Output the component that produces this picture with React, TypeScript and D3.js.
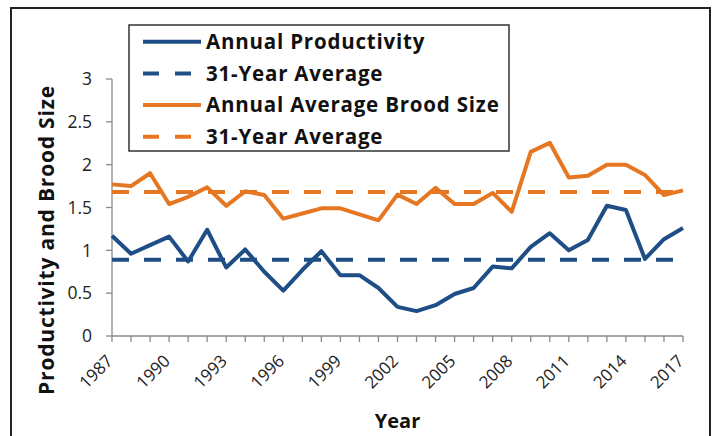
import React from "react";
import * as d3 from "d3";

const years = [1987, 1988, 1989, 1990, 1991, 1992, 1993, 1994, 1995, 1996, 1997, 1998, 1999, 2000, 2001, 2002, 2003, 2004, 2005, 2006, 2007, 2008, 2009, 2010, 2011, 2012, 2013, 2014, 2015, 2016, 2017];
const productivity = [1.17, 0.96, 1.06, 1.16, 0.87, 1.24, 0.8, 1.01, 0.75, 0.53, 0.77, 0.99, 0.71, 0.71, 0.56, 0.34, 0.29, 0.36, 0.49, 0.56, 0.81, 0.79, 1.04, 1.2, 1.0, 1.12, 1.52, 1.47, 0.9, 1.13, 1.26];
const broodSize = [1.77, 1.75, 1.9, 1.54, 1.625, 1.735, 1.52, 1.69, 1.645, 1.37, 1.43, 1.49, 1.49, 1.42, 1.35, 1.65, 1.54, 1.73, 1.54, 1.54, 1.67, 1.45, 2.15, 2.255, 1.85, 1.87, 2.0, 2.0, 1.88, 1.645, 1.7];
const productivityAvg = 0.89;
const broodAvg = 1.68;
const yTicks = [0, 0.5, 1, 1.5, 2, 2.5, 3];
const xTickLabels = [1987, 1990, 1993, 1996, 1999, 2002, 2005, 2008, 2011, 2014, 2017];
const legendItems = [
  { label: "Annual Productivity", color: "#1F4E86", dashed: false },
  { label: "31-Year Average", color: "#1F4E86", dashed: true },
  { label: "Annual Average Brood Size", color: "#E67722", dashed: false },
  { label: "31-Year Average", color: "#E67722", dashed: true },
];

const BLUE = "#1F4E86";
const ORANGE = "#E67722";
const FONT = "'Open Sans', 'DejaVu Sans', sans-serif";
const DASH = "17,15";

export default function App() {
  const x = d3.scaleLinear().domain([1987, 2017]).range([112, 683]);
  const y = d3.scaleLinear().domain([0, 3]).range([336, 79]);
  const line = d3
    .line<number>()
    .x((_, i) => x(years[i]))
    .y((d) => y(d));

  return (
    <svg
      width={717}
      height={436}
      style={{ position: "absolute", left: 0, top: 0, background: "#fff" }}
      fontFamily={FONT}
    >
      <rect x={0} y={0} width={717} height={436} fill="#fff" />
      <rect x={11} y={8} width={699} height={440} fill="none" stroke="#222" strokeWidth={2} />

      {/* y axis */}
      <line x1={x(1987)} x2={x(1987)} y1={y(0)} y2={y(3)} stroke="#8a8a8a" strokeWidth={1.3} />
      {yTicks.map((t) => (
        <g key={"y" + t}>
          <line x1={x(1987) - 6} x2={x(1987)} y1={y(t)} y2={y(t)} stroke="#8a8a8a" strokeWidth={1.3} />
          <text x={92} y={y(t)} dy="0.36em" textAnchor="end" fontSize={17.5} fill="#222">
            {String(t)}
          </text>
        </g>
      ))}

      {/* x axis */}
      <line x1={x(1987)} x2={x(2017)} y1={y(0)} y2={y(0)} stroke="#8a8a8a" strokeWidth={1.3} />
      {years.map((yr) => (
        <line key={"xt" + yr} x1={x(yr)} x2={x(yr)} y1={y(0)} y2={y(0) + 6} stroke="#8a8a8a" strokeWidth={1.3} />
      ))}
      {xTickLabels.map((yr) => (
        <text
          key={"xl" + yr}
          transform={`translate(${x(yr) + 2},${362}) rotate(-45)`}
          textAnchor="end"
          fontSize={17}
          fill="#222"
        >
          {String(yr)}
        </text>
      ))}

      {/* average lines */}
      <line x1={x(1987)} x2={x(2017)} y1={y(productivityAvg)} y2={y(productivityAvg)} stroke={BLUE} strokeWidth={4} strokeDasharray={DASH} />
      <line x1={x(1987)} x2={x(2017)} y1={y(broodAvg)} y2={y(broodAvg)} stroke={ORANGE} strokeWidth={4} strokeDasharray={DASH} />

      {/* series */}
      <path d={line(broodSize) || ""} fill="none" stroke={ORANGE} strokeWidth={4} strokeLinejoin="round" />
      <path d={line(productivity) || ""} fill="none" stroke={BLUE} strokeWidth={4} strokeLinejoin="round" />

      {/* axis titles */}
      <text
        transform={`translate(47,240) rotate(-90)`}
        textAnchor="middle"
        dy="0.35em"
        fontSize={21}
        letterSpacing={0.8}
        fontWeight="bold"
        fill="#111"
      >
        Productivity and Brood Size
      </text>
      <text x={(x(1987) + x(2017)) / 2} y={421} dy="0.35em" textAnchor="middle" fontSize={20} fontWeight="bold" fill="#111">
        Year
      </text>

      {/* legend */}
      <rect x={129} y={25} width={380} height={126} fill="#fff" stroke="#333" strokeWidth={1.5} />
      {legendItems.map((it, i) => {
        const cy = 41.7 + i * 31.7;
        return (
          <g key={"lg" + i}>
            <line x1={143} x2={201} y1={cy} y2={cy} stroke={it.color} strokeWidth={4} strokeDasharray={it.dashed ? "16,16" : undefined} />
            <text x={206} y={cy} dy="0.35em" fontSize={20.5} letterSpacing={0.8} fontWeight="bold" fill="#111">
              {it.label}
            </text>
          </g>
        );
      })}
    </svg>
  );
}
